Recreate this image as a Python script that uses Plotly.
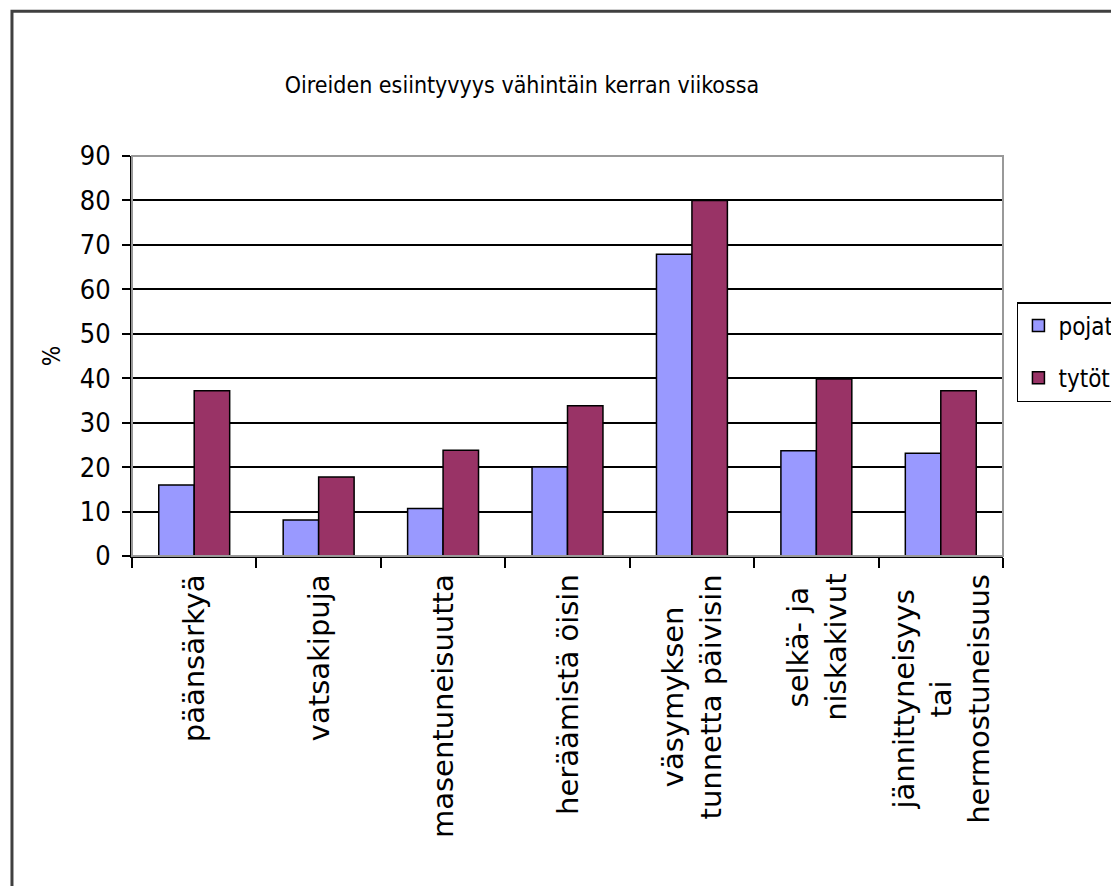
import plotly.graph_objects as go

categories = ["päänsärkyä", "vatsakipuja", "masentuneisuutta", "heräämistä öisin",
              "väsymyksen tunnetta päivisin", "selkä- ja niskakivut",
              "jännittyneisyys tai hermostuneisuus"]
tick_labels = ["päänsärkyä", "vatsakipuja", "masentuneisuutta", "heräämistä öisin",
               "väsymyksen<br>tunnetta päivisin", "selkä- ja<br>niskakivut",
               "jännittyneisyys<br>tai<br>hermostuneisuus"]
pojat = [16.0, 8.1, 10.7, 20.0, 67.9, 23.7, 23.1]
tytot = [37.2, 17.8, 23.8, 33.8, 80.0, 39.8, 37.2]
y_ticks = [0, 10, 20, 30, 40, 50, 60, 70, 80, 90]

NARROW = "Liberation Sans Narrow, Arial Narrow, DejaVu Sans Condensed, sans-serif"
WIDE = "DejaVu Sans, Liberation Sans, Arial, sans-serif"

# page body has an 8px margin: figure is smaller and everything is shifted by -8px
W, H = 1111, 878
L, R, T, B = 124, 116, 148, 330

fig = go.Figure()
fig.add_trace(go.Bar(name="pojat", x=categories, y=pojat, legendgroup="a",
                     marker=dict(color="#9999FF", line=dict(color="#000000", width=1.5))))
fig.add_trace(go.Bar(name="tytöt", x=categories, y=tytot, legendgroup="b",
                     marker=dict(color="#993366", line=dict(color="#000000", width=1.5))))

# category labels, rotated, centered lines
for c, lab in zip(categories, tick_labels):
    fig.add_annotation(x=c, xref="x", y=0, yref="paper", yanchor="top", xanchor="center",
                       yshift=-16, text=lab, textangle=-90, showarrow=False, align="center",
                       font=dict(family=WIDE, size=29, color="#000000"))

# plot-area border (top / right, grey)
fig.add_shape(type="rect", xref="paper", yref="paper", x0=0, y0=0, x1=1, y1=1,
              line=dict(color="#999999", width=2), layer="above")
# outer chart frame
fig.add_shape(type="rect", xref="paper", yref="paper", x0=-0.1378, y0=-0.9, x1=1.2, y1=1.362,
              line=dict(color="#404040", width=3), layer="above")

fig.update_layout(
    width=W, height=H,
    margin=dict(l=L, r=R, t=T, b=B, autoexpand=False),
    paper_bgcolor="white", plot_bgcolor="white",
    barmode="group", bargap=0.43, bargroupgap=0,
    title=dict(text="Oireiden esiintyvyys vähintäin kerran viikossa",
               x=514 / W, xanchor="center", y=1 - 77 / H, yanchor="middle",
               font=dict(family=NARROW, size=23, color="#000000")),
    legend=dict(x=1.016, y=0.635, xanchor="left", yanchor="top",
                bordercolor="#000000", borderwidth=1.5, bgcolor="white",
                font=dict(family=NARROW, size=24, color="#000000"),
                tracegroupgap=18, itemwidth=30),
    xaxis=dict(showticklabels=False, ticks="outside", tickson="boundaries", ticklen=10,
               tickwidth=2, tickcolor="#000000", showline=True, linecolor="#000000",
               linewidth=2, showgrid=False),
    yaxis=dict(range=[0, 90], tickvals=y_ticks, ticks="outside", ticklen=8, tickwidth=2,
               tickcolor="#000000", showline=True, linecolor="#000000", linewidth=2,
               showgrid=True, gridcolor="#000000", gridwidth=2, zeroline=False,
               ticklabelstandoff=6,
               tickfont=dict(family=NARROW, size=27, color="#000000"),
               title=dict(text="%", standoff=12,
                          font=dict(family=NARROW, size=24, color="#000000"))),
)

fig.write_html("out.html")
